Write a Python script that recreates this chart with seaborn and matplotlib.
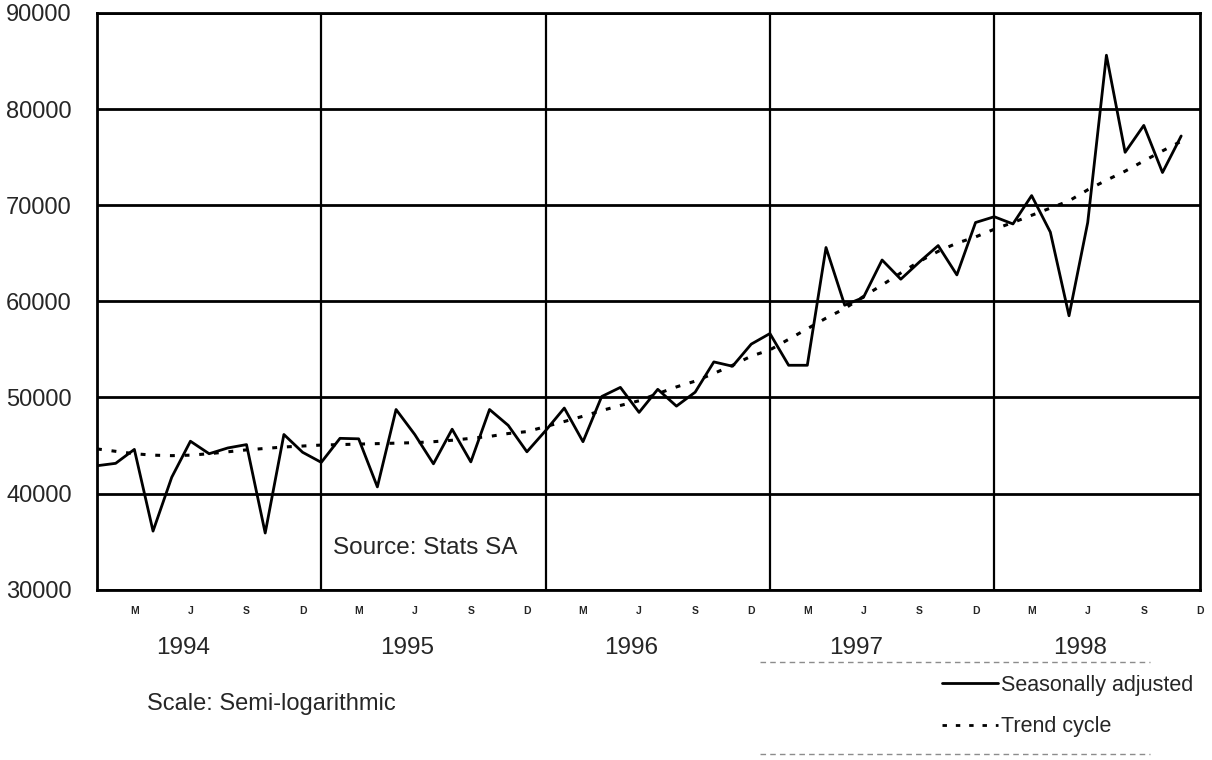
import matplotlib
matplotlib.use("Agg")
import pandas as pd
import matplotlib.pyplot as plt
import matplotlib.transforms as mtransforms
from matplotlib.lines import Line2D
import seaborn as sns

# monthly values, Jan 1994 .. Nov 1998
seasonally_adjusted = [42900, 43150, 44600, 36100, 41700, 45450, 44150, 44750, 45100, 35900,
                       46150, 44300, 43250, 45750, 45700, 40700, 48750, 46150, 43100, 46700,
                       43300, 48750, 47100, 44350, 46550, 48900, 45400, 50100, 51050, 48450,
                       50850, 49100, 50550, 53700, 53250, 55550, 56650, 53350, 53350, 65600,
                       59600, 60400, 64300, 62300, 64100, 65800, 62750, 68200, 68800, 68050,
                       71000, 67200, 58500, 68200, 85600, 75500, 78300, 73400, 77200]
trend_cycle = [44650, 44400, 44150, 44000, 43950, 44000, 44150, 44350, 44550, 44700,
               44850, 44950, 45050, 45100, 45150, 45200, 45250, 45300, 45400, 45550,
               45750, 45950, 46250, 46450, 46970, 47500, 48050, 48640, 49170, 49660,
               50400, 51100, 51700, 52500, 53350, 54300, 54950, 56050, 57150, 58250,
               59250, 60500, 61700, 62950, 64150, 65200, 66050, 66700, 67500, 68200,
               68950, 69700, 70450, 71600, 72600, 73540, 74600, 75650, 76650]
month_letters = ["M", "J", "S", "D"]
years = ["1994", "1995", "1996", "1997", "1998"]
y_ticks = [30000, 40000, 50000, 60000, 70000, 80000, 90000]

df = pd.DataFrame({"month": range(len(seasonally_adjusted)),
                   "sa": seasonally_adjusted,
                   "trend": trend_cycle})

sns.set_style("white")
plt.rcParams["font.family"] = ["Liberation Sans", "DejaVu Sans"]

dotted = (0, (1.6, 3.2))

fig = plt.figure(figsize=(12.12, 7.6), dpi=100)
ax = fig.add_axes([0.080, 0.224, 0.910, 0.759])

sns.lineplot(data=df, x="month", y="sa", color="black", linewidth=2, ax=ax,
             label="Seasonally adjusted")
sns.lineplot(data=df, x="month", y="trend", color="black", linewidth=2.2,
             linestyle=dotted, ax=ax, label="Trend cycle")

ax.set_xlim(0, 59)
ax.set_ylim(30000, 90000)
ax.set_xlabel("")
ax.set_ylabel("")

# month letters every quarter, year dividers at January
xt = [2 + 3 * i for i in range(20)]
ax.set_xticks(xt)
ax.set_xticklabels(month_letters * 5, fontsize=7.5, fontweight="bold")
ax.set_xticks([12, 24, 36, 48], minor=True)
ax.set_yticks(y_ticks)
ax.set_yticklabels([str(v) for v in y_ticks], fontsize=17)

ax.grid(axis="y", which="major", color="black", linewidth=2)
ax.grid(axis="x", which="minor", color="black", linewidth=1.6)
ax.grid(axis="x", which="major", visible=False)
ax.tick_params(axis="x", which="both", length=0, pad=12)
ax.tick_params(axis="y", length=0, pad=18)
for s in ax.spines.values():
    s.set_color("black")
    s.set_linewidth(2)

trans = mtransforms.blended_transform_factory(ax.transData, fig.transFigure)
for k, yr in enumerate(years):
    ax.text(4.6 + 12 * k, 1 - 648 / 760, yr, transform=trans, ha="center",
            va="center", fontsize=17.5)

fig.text(147 / 1212, 1 - 704 / 760, "Scale: Semi-logarithmic", fontsize=17, va="center")
fig.text(333 / 1212, 1 - 548 / 760, "Source: Stats SA", fontsize=17.5, va="center")

ax.legend_.remove()
handles = [Line2D([], [], color="black", linewidth=2),
           Line2D([], [], color="black", linewidth=2, linestyle=dotted)]
fig.legend(handles, ["Seasonally adjusted", "Trend cycle"], loc="center left",
           bbox_to_anchor=(942 / 1212, 1 - 706 / 760), frameon=False, fontsize=15.5,
           handlelength=2.6, handletextpad=0.15, labelspacing=0.95,
           borderpad=0, borderaxespad=0)

# faint rules above and below the legend
for yy in [662, 754]:
    fig.add_artist(Line2D([760 / 1212, 1150 / 1212], [1 - yy / 760] * 2,
                          transform=fig.transFigure, color="0.55", linewidth=1,
                          linestyle=(0, (4, 3))))

fig.savefig("out.png", dpi=100)
